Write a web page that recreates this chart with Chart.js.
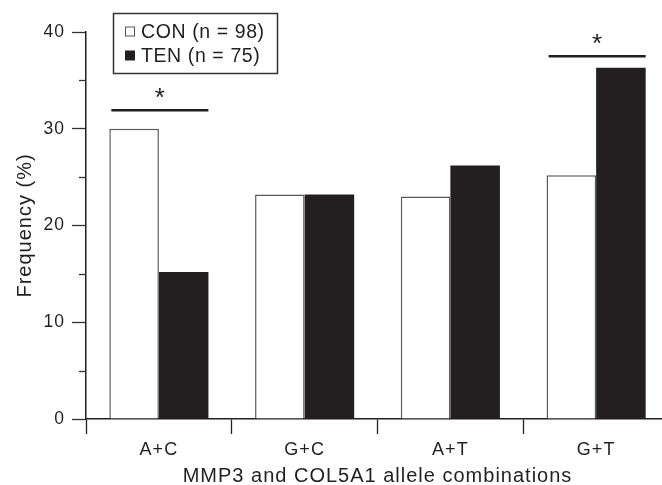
<!DOCTYPE html>
<html>
<head>
    <title>MMP3 and COL5A1 allele combinations</title>
    <script src="https://cdn.jsdelivr.net/npm/chart.js@4.4.0/dist/chart.umd.min.js"></script>
    <style>
        html, body { margin: 0; padding: 0; overflow: hidden; background: #fff; }
        .chart-box { width: 670px; height: 485px; }
    </style>
</head>
<body>
    <div class="chart-box"><canvas id="freqChart"></canvas></div>

    <script>
        // data
        const categories = ['A+C', 'G+C', 'A+T', 'G+T'];
        const conValues = [30.0, 23.2, 23.0, 25.2];   // CON (n = 98)
        const tenValues = [15.2, 23.2, 26.2, 36.3];   // TEN (n = 75)
        const seriesLabels = ['CON (n = 98)', 'TEN (n = 75)'];
        const yMajorTicks = [0, 10, 20, 30, 40];
        const yMinorTicks = [5, 15, 25, 35];
        // significance bars: category and height (in %)
        const sigCategories = ['A+C', 'G+T'];
        const sigLevels = [31.9, 37.5];

        const ink = '#231f20';
        const font = '"Liberation Sans", Arial, Helvetica, sans-serif';
        Chart.defaults.font.family = font;
        Chart.defaults.color = ink;

        // minor ticks, legend box and significance marks
        const extras = {
            id: 'extras',
            beforeDraw(chart) {
                chart.ctx.letterSpacing = '1px';
            },
            afterDraw(chart) {
                const ctx = chart.ctx;
                const y = chart.scales.y;
                const left = chart.chartArea.left;
                ctx.save();
                ctx.strokeStyle = '#333';
                ctx.lineWidth = 1.3;
                yMinorTicks.forEach(v => {
                    const py = Math.round(y.getPixelForValue(v)) + 0.5;
                    ctx.beginPath();
                    ctx.moveTo(left - 7, py);
                    ctx.lineTo(left, py);
                    ctx.stroke();
                });

                // significance lines
                const m0 = chart.getDatasetMeta(0).data;
                const m1 = chart.getDatasetMeta(1).data;
                ctx.lineWidth = 2.5;
                ctx.strokeStyle = ink;
                ctx.fillStyle = ink;
                ctx.font = '26px ' + font;
                ctx.letterSpacing = '0px';
                ctx.textAlign = 'center';
                ctx.textBaseline = 'alphabetic';
                sigCategories.forEach((c, i) => {
                    const idx = categories.indexOf(c);
                    const x0 = m0[idx].x - m0[idx].width / 2 + 2;
                    const x1 = m1[idx].x + m1[idx].width / 2;
                    const py = y.getPixelForValue(sigLevels[i]);
                    ctx.beginPath();
                    ctx.moveTo(x0, py);
                    ctx.lineTo(x1, py);
                    ctx.stroke();
                    ctx.fillText('*', (x0 + x1) / 2, py - 4);
                });

                // legend box
                ctx.lineWidth = 1.5;
                ctx.strokeStyle = '#333';
                ctx.strokeRect(113.5, 13.5, 164, 60);
                ctx.font = '19.5px ' + font;
                ctx.letterSpacing = '0.6px';
                ctx.textAlign = 'left';
                ctx.textBaseline = 'middle';
                chart.data.datasets.forEach((ds, i) => {
                    const cy = 31.5 + i * 24;
                    if (i === 0) {
                        ctx.fillStyle = '#fff';
                        ctx.fillRect(125.5, cy - 4.5, 9, 9);
                        ctx.lineWidth = 1;
                        ctx.strokeStyle = '#555';
                        ctx.strokeRect(125.5, cy - 4.5, 9, 9);
                    } else {
                        ctx.fillStyle = ink;
                        ctx.fillRect(125, cy - 5, 10, 10);
                    }
                    ctx.fillStyle = ink;
                    ctx.fillText(ds.label, 141, cy + 1);
                });
                ctx.restore();
            }
        };

        try {
            new Chart(document.getElementById('freqChart'), {
                type: 'bar',
                data: {
                    labels: categories,
                    datasets: [
                        {
                            label: seriesLabels[0],
                            data: conValues,
                            backgroundColor: '#ffffff',
                            borderColor: '#5a5a5a',
                            borderWidth: 1.5
                        },
                        {
                            label: seriesLabels[1],
                            data: tenValues,
                            backgroundColor: ink,
                            borderColor: ink,
                            borderWidth: 0
                        }
                    ]
                },
                options: {
                    responsive: true,
                    maintainAspectRatio: false,
                    animation: false,
                    devicePixelRatio: 1,
                    categoryPercentage: 0.68,
                    barPercentage: 1.0,
                    layout: { padding: { top: 32, right: 1, left: 0, bottom: 0 } },
                    plugins: {
                        legend: { display: false },
                        tooltip: { enabled: false }
                    },
                    scales: {
                        x: {
                            afterFit: s => { s.height = 66; },
                            grid: {
                                offset: true,
                                drawOnChartArea: false,
                                drawTicks: true,
                                tickLength: 15,
                                tickColor: ink,
                                tickWidth: 1.3
                            },
                            border: { display: true, color: ink, width: 1.5 },
                            ticks: { font: { size: 18 }, color: ink, padding: 5 },
                            title: {
                                display: true,
                                text: 'MMP3 and COL5A1 allele combinations',
                                font: { size: 20 },
                                color: ink,
                                padding: { top: 0, bottom: -3 }
                            }
                        },
                        y: {
                            min: 0,
                            max: 40,
                            afterFit: s => { s.width = 86; },
                            afterBuildTicks: s => { s.ticks = yMajorTicks.map(v => ({ value: v })); },
                            grid: {
                                drawOnChartArea: false,
                                drawTicks: true,
                                tickLength: 14,
                                tickColor: '#333',
                                tickWidth: 1.3
                            },
                            border: { display: true, color: ink, width: 1.5 },
                            ticks: { font: { size: 17.5 }, color: ink, padding: 7 },
                            title: {
                                display: true,
                                text: 'Frequency (%)',
                                font: { size: 20 },
                                color: ink,
                                padding: { top: 13, bottom: 0 }
                            }
                        }
                    }
                },
                plugins: [extras]
            });
        } catch (error) {
            console.error('Error rendering chart:', error);
        }
    </script>
</body>
</html>
